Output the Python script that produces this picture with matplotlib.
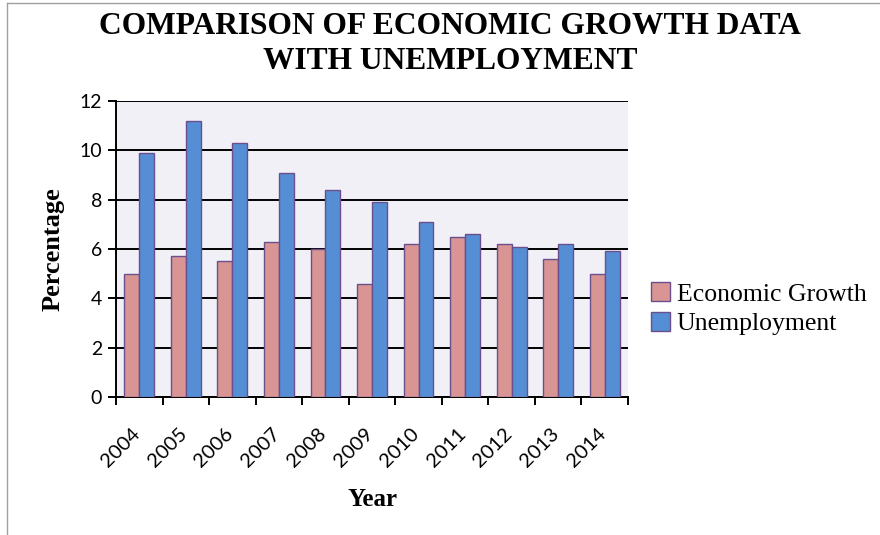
import numpy as np
import matplotlib

matplotlib.use("Agg")
import matplotlib.pyplot as plt  # noqa: E402
from matplotlib.lines import Line2D  # noqa: E402

# ---------------------------------------------------------------- data
years = ["2004", "2005", "2006", "2007", "2008", "2009",
         "2010", "2011", "2012", "2013", "2014"]
growth = [5.0, 5.7, 5.5, 6.3, 6.0, 4.6, 6.2, 6.5, 6.2, 5.6, 5.0]
unemployment = [9.9, 11.2, 10.3, 9.1, 8.4, 7.9, 7.1, 6.6, 6.1, 6.2, 5.9]

SERIF = "Liberation Serif"
SANS = "Lato"

fig = plt.figure(figsize=(8.8, 5.35), dpi=100)
ax = fig.add_axes([116 / 880, 1 - 397 / 535, 512 / 880, 296 / 535])
ax.set_facecolor("#F2F0F7")

x = np.arange(len(years))
w = 0.32
edge = "#6A4F8C"
ax.bar(x - w / 2, growth, w, color="#D99594", edgecolor=edge, lw=1,
       label="Economic Growth", zorder=3)
ax.bar(x + w / 2, unemployment, w, color="#558ED5", edgecolor=edge, lw=1,
       label="Unemployment", zorder=3)

ax.set_xlim(-0.5, len(years) - 0.5)
ax.set_ylim(0, 12)
ax.set_yticks(range(0, 13, 2))
ax.yaxis.grid(True, color="black", lw=1.4, zorder=1)
ax.set_axisbelow(True)

# tick marks on category boundaries, labels (rotated) near centres
ax.set_xticks(np.arange(-0.5, len(years), 1))
ax.set_xticklabels([])
ax.set_xticks(x - 0.17, minor=True)
ax.set_xticklabels(years, minor=True, rotation=45, ha="right",
                   rotation_mode="anchor", fontsize=14.5, family=SANS)
ax.tick_params(axis="x", which="minor", length=0, pad=20)
ax.tick_params(axis="x", which="major", length=6, width=1.4, direction="out")
ax.tick_params(axis="y", length=6, width=1.4, direction="out", pad=4)
for lab in ax.get_yticklabels():
    lab.set_family(SANS)
    lab.set_fontsize(14)

for s in ["top", "right"]:
    ax.spines[s].set_visible(False)
for s in ["left", "bottom"]:
    ax.spines[s].set_linewidth(1.4)

ax.set_ylabel("Percentage", family=SERIF, fontsize=19, fontweight="bold", labelpad=11)
ax.set_xlabel("Year", family=SERIF, fontsize=18, fontweight="bold", labelpad=13)

fig.text(450 / 880, 0.978, "COMPARISON OF ECONOMIC GROWTH DATA\nWITH UNEMPLOYMENT",
         family=SERIF, fontsize=22.7, fontweight="bold", ha="center", va="top",
         linespacing=1.3)

leg = ax.legend(loc="center left", bbox_to_anchor=(1.045, 0.298), frameon=False,
                prop={"family": SERIF, "size": 18.5}, handlelength=0.75,
                handleheight=0.75, handletextpad=0.25, labelspacing=0.25,
                borderaxespad=0, borderpad=0)

# thin page border (top and left)
fig.add_artist(Line2D([7 / 880, 7 / 880], [0, 1 - 3 / 535], color="#A0A0A0", lw=1))
fig.add_artist(Line2D([7 / 880, 1], [1 - 3 / 535, 1 - 3 / 535], color="#A0A0A0", lw=1))

fig.savefig("out.png", dpi=100)
